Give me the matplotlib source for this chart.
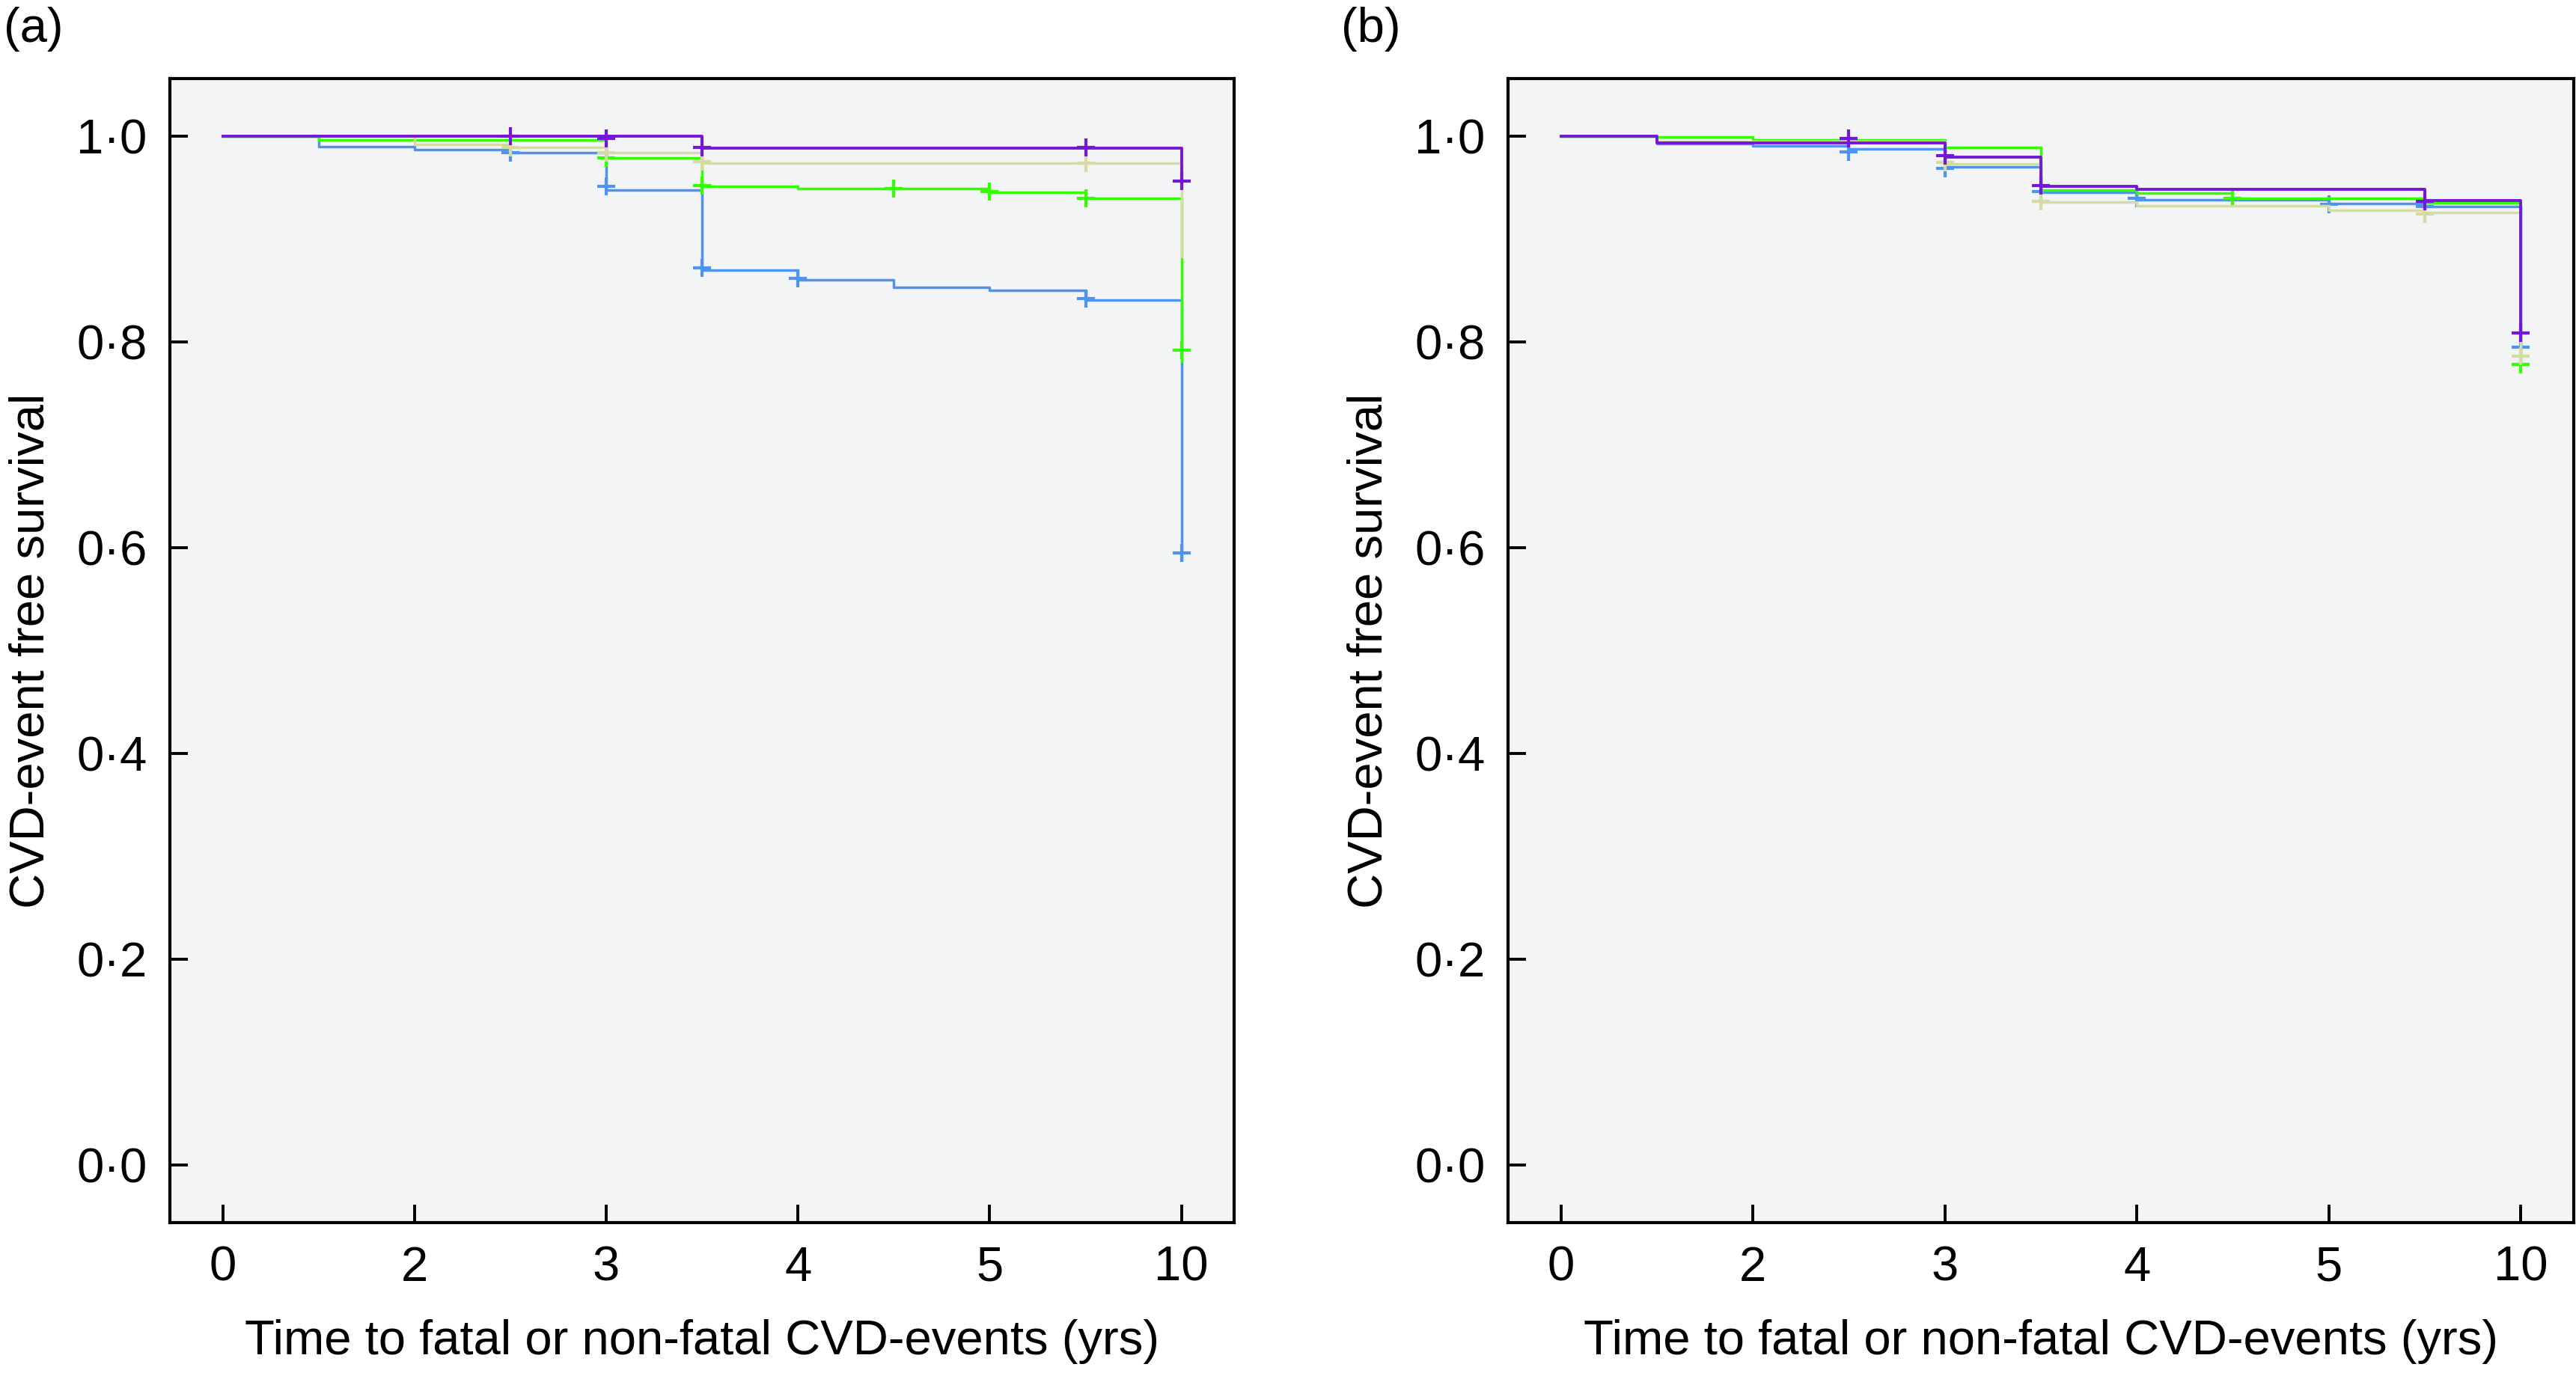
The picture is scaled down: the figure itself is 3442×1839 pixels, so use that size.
import numpy as np
import matplotlib.pyplot as plt

plt.rcParams['font.family'] = ['Liberation Sans', 'DejaVu Sans']

# ordinal time points (tick labels 0, 2, 3, 4, 5, 10 sit on positions 0..5)
steps = [0, 0.5, 1.0, 1.5, 2.0, 2.5, 3.0, 3.5, 4.0, 4.5, 5.0]
tick_pos = [0, 1, 2, 3, 4, 5]
tick_labels = ['0', '2', '3', '4', '5', '10']
y_ticks = [0.0, 0.2, 0.4, 0.6, 0.8, 1.0]

# panel (a) survival levels at each step point
a_blue = [1.0, 0.990, 0.987, 0.984, 0.948, 0.870, 0.860, 0.853, 0.850, 0.841, 0.588]
a_green = [1.0, 0.9964, 0.9964, 0.9964, 0.9787, 0.9515, 0.9493, 0.9493, 0.9452, 0.940, 0.781]
a_beige = [1.0, 1.0, 0.992, 0.989, 0.9838, 0.974, 0.974, 0.974, 0.974, 0.974, 0.883]
a_purple = [1.0, 1.0, 1.0, 1.0, 1.0, 0.9884, 0.9884, 0.9884, 0.9884, 0.9884, 0.9564]

# panel (a) censor marks
a_blue_cx = [1.5, 2.0, 2.5, 3.0, 4.5, 5.0]
a_blue_cy = [0.984, 0.951, 0.872, 0.862, 0.842, 0.595]
a_green_cx = [2.0, 2.5, 3.5, 4.0, 4.5, 5.0]
a_green_cy = [0.979, 0.952, 0.9493, 0.946, 0.940, 0.792]
a_beige_cx = [1.5, 2.0, 2.5, 4.5]
a_beige_cy = [0.989, 0.984, 0.975, 0.974]
a_purple_cx = [1.5, 2.0, 2.5, 4.5, 5.0]
a_purple_cy = [1.0, 0.998, 0.989, 0.989, 0.9564]

# panel (b) survival levels
b_blue = [1.0, 0.993, 0.9905, 0.9874, 0.9704, 0.9455, 0.9384, 0.9384, 0.9345, 0.9314, 0.7947]
b_green = [1.0, 0.9995, 0.9966, 0.9966, 0.9893, 0.948, 0.945, 0.9396, 0.9396, 0.935, 0.778]
b_beige = [1.0, 0.9947, 0.9947, 0.9947, 0.9728, 0.936, 0.9324, 0.9324, 0.9278, 0.9256, 0.786]
b_purple = [1.0, 0.9935, 0.9935, 0.9935, 0.9796, 0.951, 0.9486, 0.9486, 0.9486, 0.9372, 0.809]

# panel (b) censor marks
b_blue_cx = [1.5, 2.0, 2.5, 3.0, 4.0, 4.5, 5.0]
b_blue_cy = [0.985, 0.969, 0.946, 0.9395, 0.934, 0.932, 0.7947]
b_green_cx = [3.5, 5.0]
b_green_cy = [0.9396, 0.778]
b_beige_cx = [2.0, 2.5, 4.5, 5.0]
b_beige_cy = [0.9745, 0.9365, 0.9245, 0.786]
b_purple_cx = [1.5, 2.0, 2.5, 4.5, 5.0]
b_purple_cy = [0.9976, 0.9808, 0.952, 0.937, 0.809]

BLUE = '#4f93f0'
GREEN = '#33ff00'
BEIGE = '#d5dba2'
PURPLE = '#7417da'

fig = plt.figure(figsize=(17.21, 9.195), dpi=200)
ax_a = fig.add_axes([0.0660, 0.1115, 0.4131, 0.8314])
ax_b = fig.add_axes([0.5854, 0.1115, 0.4137, 0.8314])

panels = [
    (ax_a, [(a_blue, a_blue_cx, a_blue_cy, BLUE), (a_green, a_green_cx, a_green_cy, GREEN),
            (a_beige, a_beige_cx, a_beige_cy, BEIGE), (a_purple, a_purple_cx, a_purple_cy, PURPLE)]),
    (ax_b, [(b_blue, b_blue_cx, b_blue_cy, BLUE), (b_green, b_green_cx, b_green_cy, GREEN),
            (b_beige, b_beige_cx, b_beige_cy, BEIGE), (b_purple, b_purple_cx, b_purple_cy, PURPLE)]),
]

for ax, series in panels:
    ax.set_facecolor('#f3f4f6')
    for i, (vals, cx, cy, col) in enumerate(series):
        lw = 1.4 if col == PURPLE else 1.25
        ax.step(steps, vals, where='post', color=col, lw=lw, zorder=2 + i)
        ax.plot(cx, cy, '+', color=col, markersize=8.3, mew=1.5, zorder=2 + i)
    ax.set_xlim(-0.275, 5.275)
    ax.set_ylim(-0.056, 1.056)
    ax.set_xticks(tick_pos)
    ax.set_xticklabels(tick_labels)
    ax.set_yticks(y_ticks)
    ax.set_yticklabels([f'{v:.1f}'.replace('.', '\u00b7') for v in y_ticks])
    ax.tick_params(direction='in', length=8.5, width=1.4, labelsize=23.5, pad=11)
    for sp in ax.spines.values():
        sp.set_linewidth(1.5)
    ax.set_xlabel('Time to fatal or non-fatal CVD-events (yrs)', fontsize=23.5, labelpad=14)
    ax.set_ylabel('CVD-event free survival', fontsize=23.5, labelpad=11)

fig.text(0.0015, 0.979, '(a)', fontsize=23.5, ha='left', va='center')
fig.text(0.5206, 0.979, '(b)', fontsize=23.5, ha='left', va='center')

fig.savefig('out.png', dpi=200)
